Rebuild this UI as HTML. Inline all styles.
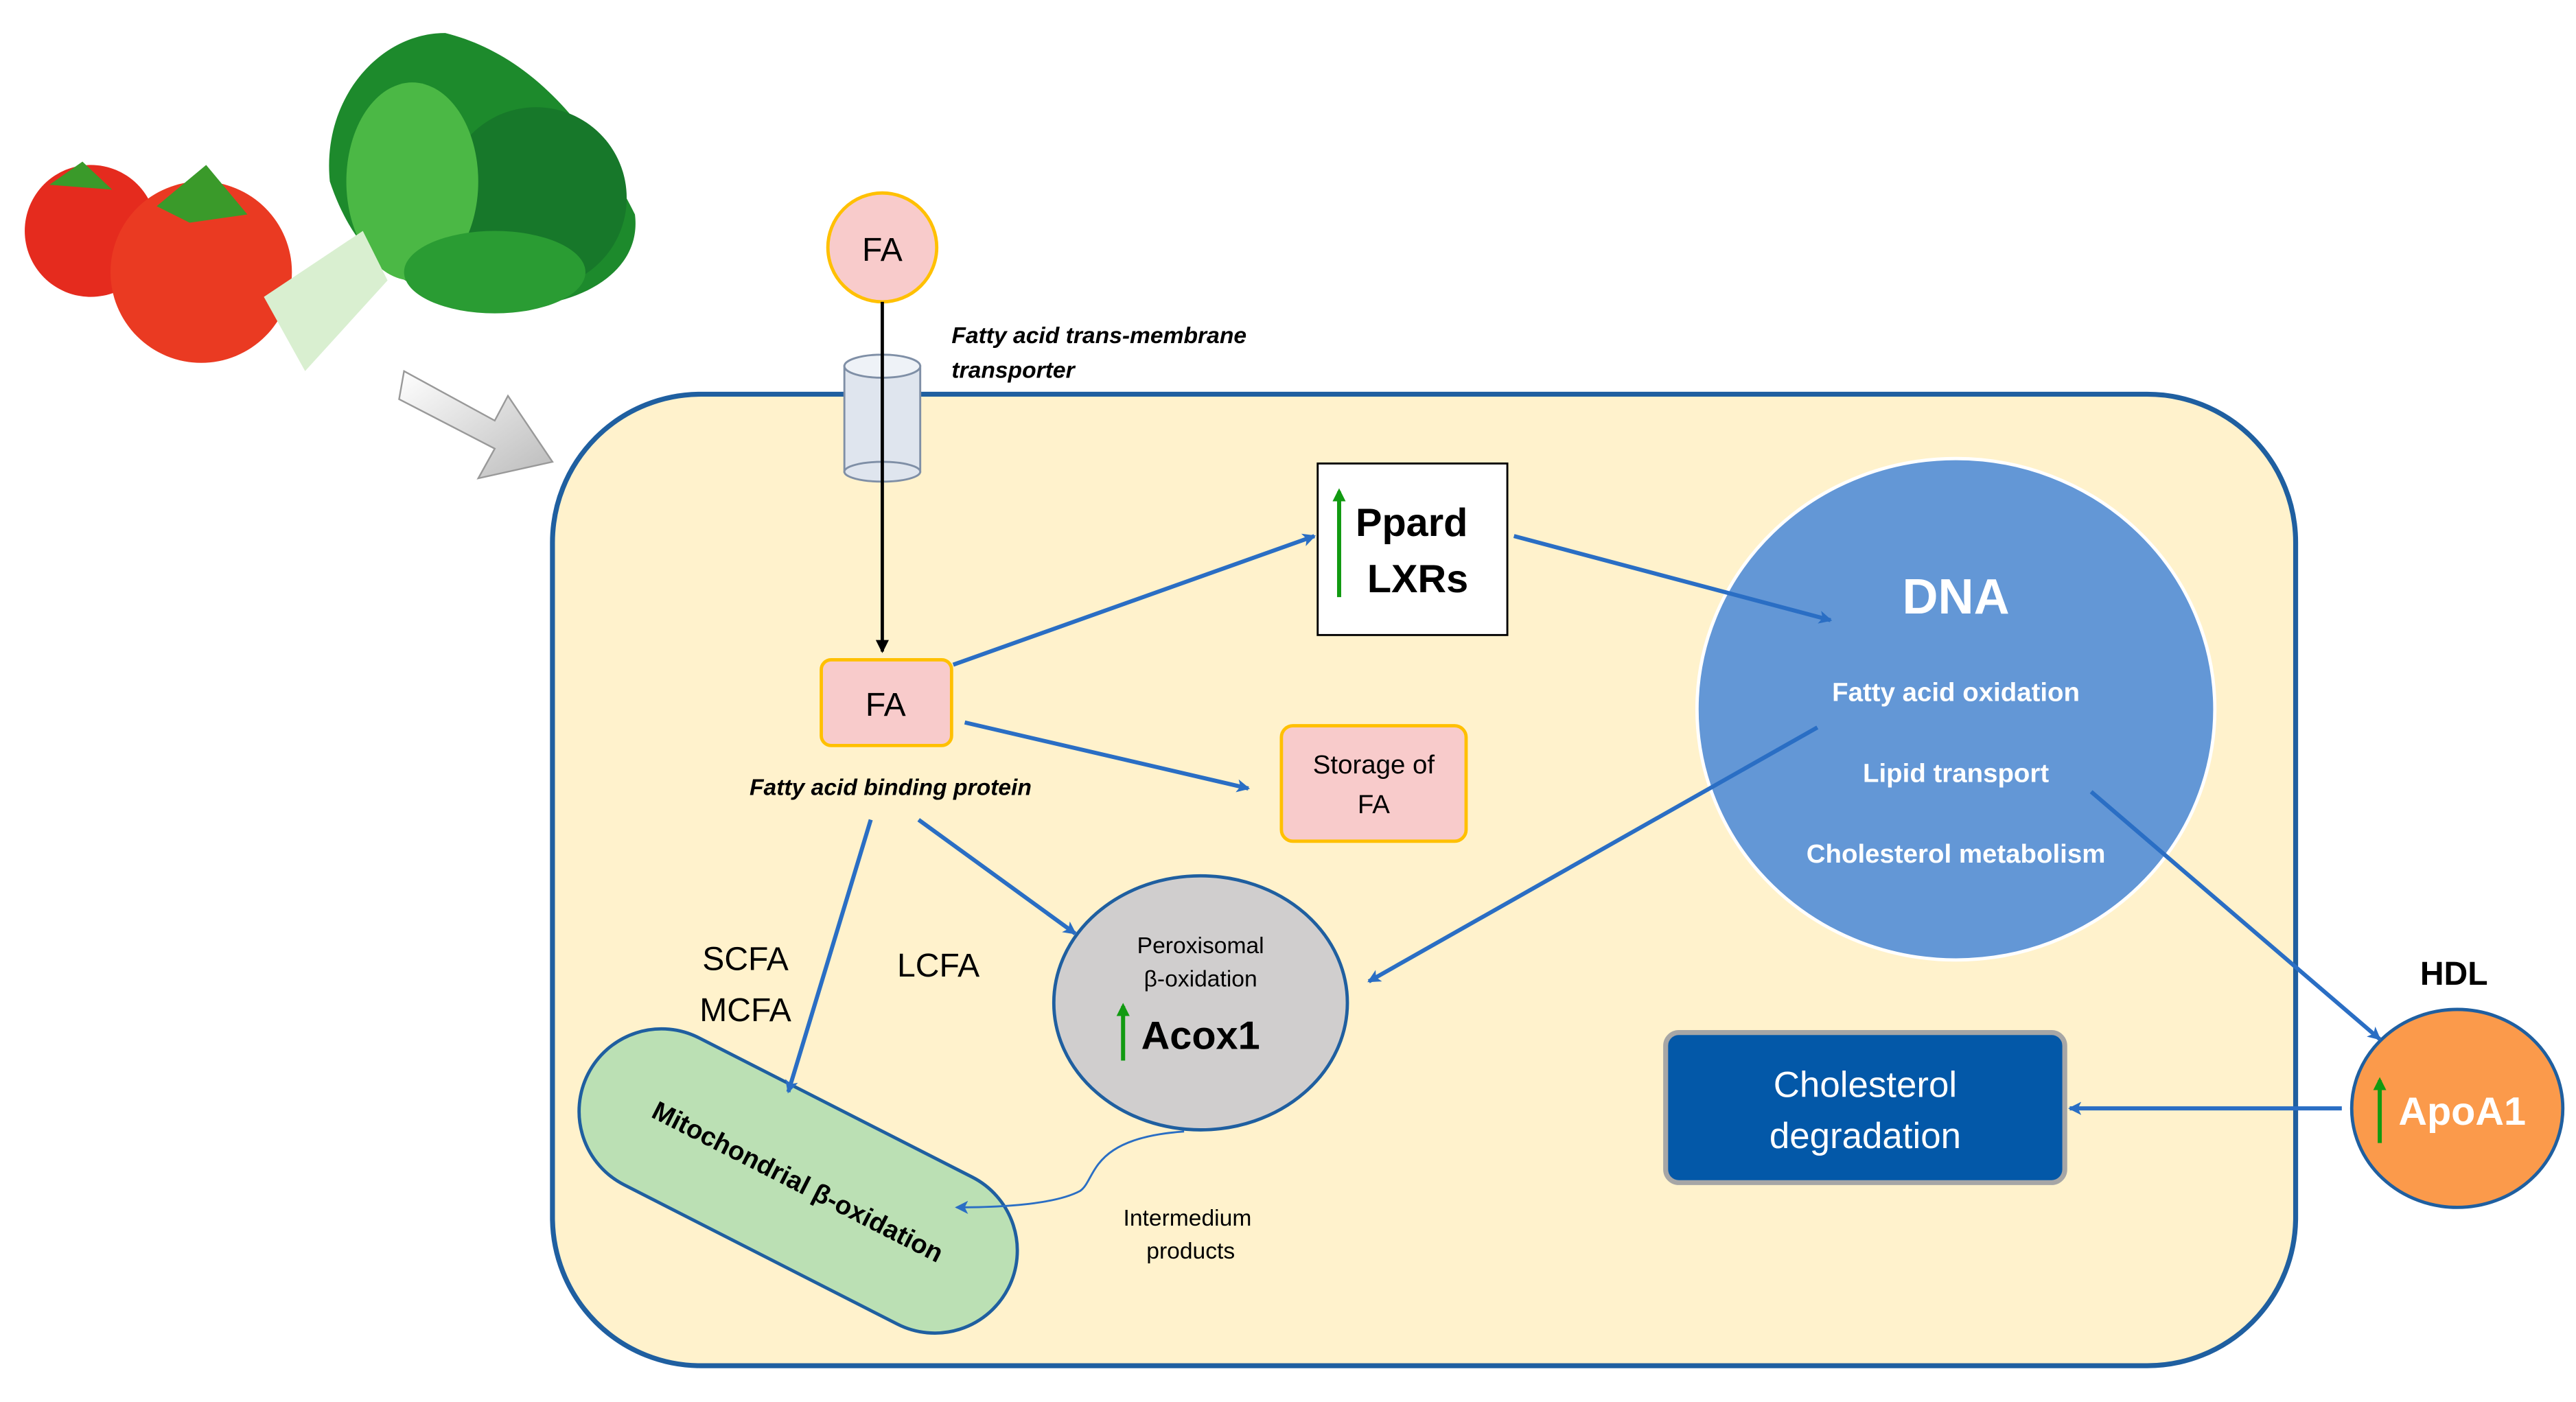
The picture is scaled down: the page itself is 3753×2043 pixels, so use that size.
<!DOCTYPE html>
<html><head><meta charset="utf-8"><style>
html,body{margin:0;padding:0;background:#fff;}
svg{display:block;}
text{font-family:"Liberation Sans",sans-serif;}
</style></head><body>
<svg width="3753" height="2043" viewBox="0 0 1562 850" preserveAspectRatio="none" xmlns="http://www.w3.org/2000/svg">
<defs>
<marker id="ab" markerWidth="8" markerHeight="8" refX="7" refY="4" orient="auto" markerUnits="userSpaceOnUse"><path d="M0,0 L8,4 L0,8 L2,4 Z" fill="#2a6ec4"/></marker>
<marker id="ak" markerWidth="8" markerHeight="8" refX="7" refY="4" orient="auto" markerUnits="userSpaceOnUse"><path d="M0,0 L8,4 L0,8 Z" fill="#000"/></marker>
<marker id="ag" markerWidth="8" markerHeight="8" refX="6" refY="4" orient="auto" markerUnits="userSpaceOnUse"><path d="M0,0 L8,4 L0,8 Z" fill="#119a11"/></marker>
<linearGradient id="wa" x1="0" y1="0" x2="1" y2="1"><stop offset="0" stop-color="#fff"/><stop offset="1" stop-color="#bbb"/></linearGradient>
</defs>
<!-- vegetables -->
<circle cx="55" cy="140" r="40" fill="#e52b1e"/>
<circle cx="122" cy="165" r="55" fill="#ea3a22"/>
<path d="M95,125 L125,100 L150,130 L115,135 Z" fill="#3a9a2a"/>
<path d="M30,112 L50,98 L68,115 Z" fill="#3a9a2a"/>
<path d="M200,110 C195,60 230,20 270,20 C310,30 350,60 385,130 C390,170 340,190 300,185 C260,180 220,170 200,110 Z" fill="#1d8a2c"/>
<ellipse cx="325" cy="120" rx="55" ry="55" fill="#17782a"/>
<ellipse cx="250" cy="110" rx="40" ry="60" fill="#4bb845"/>
<ellipse cx="300" cy="165" rx="55" ry="25" fill="#2a9c33"/>
<path d="M160,180 L220,140 L235,170 L185,225 Z" fill="#d9efd0"/>
<path d="M245,225 L300,255 L308,240 L335,280 L290,290 L300,272 L242,242 Z" fill="url(#wa)" stroke="#999" stroke-width="1"/>
<!-- cell -->
<rect x="335" y="239" width="1057" height="589" rx="90" fill="#fff2cc" stroke="#1f5fa0" stroke-width="3"/>
<!-- transporter -->
<rect x="512" y="222" width="46" height="64" fill="#dfe5ee" stroke="#7f8fa6" stroke-width="1.2"/>
<ellipse cx="535" cy="222" rx="23" ry="7" fill="#eef2f7" stroke="#7f8fa6" stroke-width="1.2"/>
<ellipse cx="535" cy="286" rx="23" ry="6" fill="#dfe5ee" stroke="#7f8fa6" stroke-width="1.2"/>
<!-- FA top -->
<circle cx="535" cy="150" r="33" fill="#f8cbcb" stroke="#ffc000" stroke-width="2"/>
<text x="535" y="158" font-size="20" text-anchor="middle">FA</text>
<line x1="535" y1="183" x2="535" y2="395" stroke="#000" stroke-width="2" marker-end="url(#ak)"/>
<text x="577" y="208" font-size="14" font-weight="bold" font-style="italic">Fatty acid trans-membrane</text>
<text x="577" y="229" font-size="14" font-weight="bold" font-style="italic">transporter</text>
<!-- FA box -->
<rect x="498" y="400" width="79" height="52" rx="6" fill="#f8cbcb" stroke="#ffc000" stroke-width="2"/>
<text x="537" y="434" font-size="20" text-anchor="middle">FA</text>
<text x="540" y="482" font-size="14" font-weight="bold" font-style="italic" text-anchor="middle">Fatty acid binding protein</text>
<!-- Ppard box -->
<rect x="799" y="281" width="115" height="104" fill="#fff" stroke="#000" stroke-width="1.2"/>
<line x1="812" y1="362" x2="812" y2="298" stroke="#119a11" stroke-width="2.5" marker-end="url(#ag)"/>
<text x="822" y="325" font-size="24" font-weight="bold">Ppard</text>
<text x="829" y="359" font-size="24" font-weight="bold">LXRs</text>
<!-- storage -->
<rect x="777" y="440" width="112" height="70" rx="7" fill="#f8cbcb" stroke="#ffc000" stroke-width="2"/>
<text x="833" y="469" font-size="16" text-anchor="middle">Storage of</text>
<text x="833" y="493" font-size="16" text-anchor="middle">FA</text>
<!-- DNA -->
<ellipse cx="1186" cy="430" rx="157" ry="152" fill="#6397d6" stroke="#fff" stroke-width="2"/>
<text x="1186" y="372" font-size="30" font-weight="bold" fill="#fff" text-anchor="middle">DNA</text>
<text x="1186" y="425" font-size="16" font-weight="bold" fill="#fff" text-anchor="middle">Fatty acid oxidation</text>
<text x="1186" y="474" font-size="16" font-weight="bold" fill="#fff" text-anchor="middle">Lipid transport</text>
<text x="1186" y="523" font-size="16" font-weight="bold" fill="#fff" text-anchor="middle">Cholesterol metabolism</text>
<!-- peroxisome -->
<ellipse cx="728" cy="608" rx="89" ry="77" fill="#d0cece" stroke="#1f5fa0" stroke-width="2"/>
<text x="728" y="578" font-size="14" text-anchor="middle">Peroxisomal</text>
<text x="728" y="598" font-size="14" text-anchor="middle">β-oxidation</text>
<line x1="681" y1="643" x2="681" y2="610" stroke="#119a11" stroke-width="2.5" marker-end="url(#ag)"/>
<text x="692" y="636" font-size="24" font-weight="bold">Acox1</text>
<!-- mito -->
<g transform="translate(484,716) rotate(27)">
<rect x="-143" y="-50" width="286" height="100" rx="50" fill="#bbe0b4" stroke="#1f5fa0" stroke-width="2"/>
<text x="0" y="6" font-size="16" font-weight="bold" text-anchor="middle">Mitochondrial β-oxidation</text>
</g>
<text x="452" y="588" font-size="20" text-anchor="middle">SCFA</text>
<text x="452" y="619" font-size="20" text-anchor="middle">MCFA</text>
<text x="569" y="592" font-size="20" text-anchor="middle">LCFA</text>
<text x="720" y="743" font-size="14" text-anchor="middle">Intermedium</text>
<text x="722" y="763" font-size="14" text-anchor="middle">products</text>
<!-- cholesterol -->
<rect x="1010" y="626" width="242" height="91" rx="8" fill="#0358a8" stroke="#a6a6a6" stroke-width="3"/>
<text x="1131" y="665" font-size="22" fill="#fff" text-anchor="middle">Cholesterol</text>
<text x="1131" y="696" font-size="22" fill="#fff" text-anchor="middle">degradation</text>
<!-- ApoA1 -->
<text x="1488" y="597" font-size="20" font-weight="bold" text-anchor="middle">HDL</text>
<ellipse cx="1490" cy="672" rx="64" ry="60" fill="#fb9a4b" stroke="#1f5fa0" stroke-width="2"/>
<line x1="1443" y1="693" x2="1443" y2="655" stroke="#119a11" stroke-width="2.5" marker-end="url(#ag)"/>
<text x="1493" y="682" font-size="24" font-weight="bold" fill="#fff" text-anchor="middle">ApoA1</text>
<!-- arrows -->
<g stroke="#2a6ec4" stroke-width="2.5" fill="none" marker-end="url(#ab)">
<line x1="578" y1="403" x2="797" y2="325"/>
<line x1="918" y1="325" x2="1110" y2="376"/>
<line x1="585" y1="438" x2="757" y2="478"/>
<line x1="557" y1="497" x2="652" y2="566"/>
<line x1="528" y1="497" x2="478" y2="662"/>
<line x1="1102" y1="441" x2="830" y2="595"/>
<line x1="1268" y1="480" x2="1443" y2="630"/>
<line x1="1420" y1="672" x2="1255" y2="672"/>
</g>
<path d="M718,686 C660,690 665,715 655,722 C640,730 610,732 580,732" stroke="#2a6ec4" stroke-width="1.2" fill="none" marker-end="url(#ab)"/>
</svg>
</body></html>
